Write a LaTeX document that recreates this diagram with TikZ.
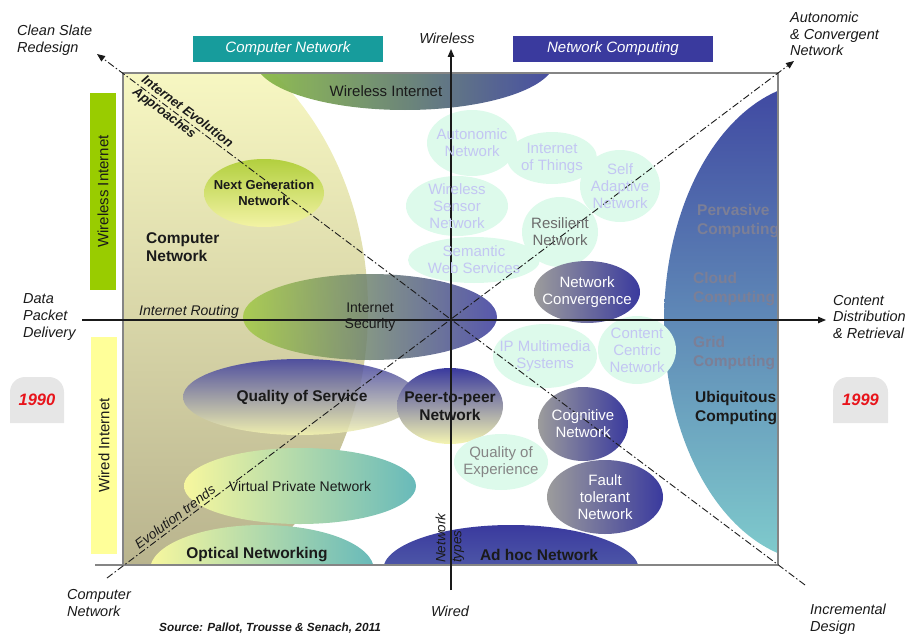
\documentclass[tikz,border=0pt]{standalone}
\usepackage{fontspec}
\setmainfont{Liberation Sans}
\usetikzlibrary{shapes.geometric,arrows.meta}
\definecolor{tealc}{HTML}{179C9C}
\definecolor{navyc}{HTML}{3A3A9E}
\definecolor{greenbar}{HTML}{99CC00}
\definecolor{yellowbar}{HTML}{FFFF99}
\definecolor{tabc}{HTML}{E6E6E6}
\definecolor{yearred}{HTML}{E8141B}
\definecolor{wiL}{HTML}{8CBC46}
\definecolor{wiR}{HTML}{3D449E}
\definecolor{ubT}{HTML}{3F47A1}
\definecolor{ubM}{HTML}{6690C0}
\definecolor{ubB}{HTML}{80CDCD}
\definecolor{paleY}{HTML}{F5F5B2}
\definecolor{yelL}{HTML}{F7F79E}
\definecolor{tealL}{HTML}{68BABA}
\definecolor{adB}{HTML}{6478B2}
\definecolor{isL}{HTML}{A2CA45}
\definecolor{mintc}{HTML}{DDFAEB}
\definecolor{lav}{HTML}{C3C6F3}
\definecolor{greyc}{HTML}{9C9C9C}
\definecolor{rgT}{HTML}{F7F7C2}
\definecolor{rgM}{HTML}{E6E4B4}
\definecolor{rgB}{HTML}{B9B48E}
\definecolor{ngT}{HTML}{B2CF3E}
\definecolor{ngB}{HTML}{F3F3A5}
\definecolor{framec}{HTML}{858585}
\definecolor{compc}{HTML}{7C7F96}
\definecolor{inkc}{HTML}{1A1A1A}
\newcommand{\fsz}[2]{\fontsize{#1}{#2}\selectfont}
\begin{document}
\begin{tikzpicture}[x=1pt,y=-1pt,
 shp/.style={ellipse, inner sep=0pt, outer sep=0pt, draw=none},
 mint/.style={shp, fill=mintc},
 gb/.style={shp, left color=greyc, right color=navyc},
 mtx/.style={align=center, text=lav, font=\fsz{15}{17}, inner sep=0pt},
 wtx/.style={align=center, text=white, font=\fsz{15}{17}, inner sep=0pt},
 btx/.style={align=center, text=inkc, font=\bfseries\fsz{15.5}{18.5}, inner sep=0pt},
 ntx/.style={align=center, text=inkc, font=\fsz{14}{16}, inner sep=0pt},
 ctx/.style={align=left, anchor=west, text=compc, font=\bfseries\fsz{15.5}{19}, inner sep=0pt},
 lab/.style={align=left, text=inkc, font=\itshape\fsz{14.5}{16.8}, inner sep=0pt},
 hdr/.style={minimum height=26pt, inner sep=0pt, text=white, font=\itshape\fsz{15}{17}},
 bar/.style={rotate=90, minimum height=26pt, inner sep=0pt, text=inkc, font=\fsz{15}{17}},
 yr/.style={text=yearred, font=\bfseries\itshape\fsz{16.5}{19}, inner sep=0pt},
 ax/.style={line width=1.2pt, draw=inkc},
 dd/.style={line width=0.9pt, draw=inkc, dash pattern=on 7pt off 2.5pt on 1.5pt off 2.5pt},
 tip/.style={-{Triangle[length=8pt,width=6.5pt]}},
 fr/.style={draw=framec, line width=1.6pt}
]
\useasboundingbox (0,0) rectangle (915,634);

% headers
\node[hdr, fill=tealc, minimum width=190pt] (hcn) at (288,49) {Computer Network};
\node[hdr, fill=navyc, minimum width=200pt] (hnc) at (613,49) {Network Computing};

% side bars
\node[bar, fill=greenbar, minimum width=197pt] (bwi) at (103,191.5) {Wireless Internet};
\node[bar, fill=yellowbar, minimum width=217pt] (bwd) at (104,445.5) {Wired Internet};

% year tabs
\fill[tabc] (10,423) -- (10,392) arc[start angle=180,end angle=270,radius=15] -- (49,377) arc[start angle=270,end angle=360,radius=15] -- (64,423) -- cycle;
\node[yr] (y1990) at (37,400) {1990};
\fill[tabc] (833,423) -- (833,392) arc[start angle=180,end angle=270,radius=15] -- (873,377) arc[start angle=270,end angle=360,radius=15] -- (888,423) -- cycle;
\node[yr] (y1999) at (860.5,400) {1999};

% clipped background shapes
\begin{scope}
\clip (123,73) rectangle (778,565);
\begin{scope}
\clip (123,310) ellipse [x radius=245, y radius=300];
\shade[top color=rgT, middle color=rgM, bottom color=rgB] (123,73) rectangle (370,565);
\end{scope}
\shade[left color=wiL, right color=wiR, opacity=0.95] (405,60) ellipse [x radius=150, y radius=50];
\begin{scope}
\clip (820,322) ellipse [x radius=156, y radius=240];
\shade[top color=ubT, middle color=ubM, bottom color=ubB] (655,80) rectangle (780,565);
\end{scope}
\shade[left color=yelL, right color=tealL] (262,570) ellipse [x radius=112, y radius=45];
\shade[top color=navyc, bottom color=adB] (511,570) ellipse [x radius=128, y radius=45];
\end{scope}

% ellipses
\node[shp, minimum width=254pt, minimum height=86pt, left color=isL, right color=navyc, opacity=0.85] (isec) at (370,317) {};
\node[shp, minimum width=234pt, minimum height=76pt, top color=navyc, bottom color=paleY, opacity=0.85] (qos) at (300,397) {};
\node[shp, minimum width=232pt, minimum height=76pt, left color=yelL, right color=tealL] (vpn) at (300,486) {};
\node[shp, minimum width=106pt, minimum height=76pt, top color=navyc, bottom color=paleY] (p2p) at (450,406) {};
\node[shp, minimum width=120pt, minimum height=68pt, top color=ngT, bottom color=ngB] (ngn) at (264,193) {};

\node[mint, minimum width=90pt, minimum height=66pt] (auto) at (472,143) {};
\node[mint, minimum width=90pt, minimum height=52pt] (iot) at (552,158) {};
\node[mint, minimum width=80pt, minimum height=72pt] (self) at (620,186) {};
\node[mint, minimum width=102pt, minimum height=60pt] (wsn) at (457,206) {};
\node[mint, minimum width=76pt, minimum height=70pt] (res) at (560,232) {};
\node[mint, minimum width=132pt, minimum height=46pt] (sem) at (474,260) {};
\node[mint, minimum width=104pt, minimum height=64pt] (ipm) at (545,356) {};
\node[mint, minimum width=78pt, minimum height=68pt] (ccn) at (637,350) {};
\node[mint, minimum width=94pt, minimum height=56pt] (qoe) at (501,462) {};

\node[gb, minimum width=106pt, minimum height=62pt] (nconv) at (587,292) {};
\node[gb, minimum width=90pt, minimum height=74pt] (cog) at (583,424) {};
\node[gb, minimum width=116pt, minimum height=74pt] (fault) at (605,497) {};

% frame
\draw[fr] (123,565) -- (123,73) -- (778,73) -- (778,565);
\draw[fr] (95,565) -- (778,565);

% axes and diagonals
\coordinate (hL) at (82,320);
\coordinate (hR) at (826,320);
\coordinate (vB) at (451,590);
\coordinate (vT) at (451,49);
\coordinate (d1a) at (97,54);
\coordinate (d1b) at (805,585);
\coordinate (d2a) at (107,578);
\coordinate (d2b) at (794,61);
\draw[ax, tip] (hL) -- (hR);
\draw[ax, tip] (vB) -- (vT);
\draw[dd, tip] (d1b) -- (d1a);
\draw[dd, tip] (d2a) -- (d2b);

% texts in shapes
\node[text=inkc, font=\fsz{15}{17}, inner sep=0pt] (twi) at (386,91) {Wireless Internet};
\node[btx, font=\bfseries\fsz{13}{16}] (tngn) at (ngn) {Next Generation\\Network};
\node[ntx] (tisec) at (isec) {Internet\\Security};
\node[btx] (tqos) at (302,397) {Quality of Service};
\node[btx] (tp2p) at (p2p) {Peer-to-peer\\Network};
\node[ntx] (tvpn) at (vpn) {Virtual Private Network};
\node[btx] (topt) at (257,555) {Optical Networking};
\node[btx] (tadh) at (539,555) {Ad hoc Network};

\node[mtx] (tauto) at (auto) {Autonomic\\Network};
\node[mtx] (tiot) at (iot) {Internet\\of Things};
\node[mtx] (tself) at (self) {Self\\Adaptive\\Network};
\node[mtx] (twsn) at (wsn) {Wireless\\Sensor\\Network};
\node[mtx, text=black!58] (tres) at (res) {Resilient\\Network};
\node[mtx] (tsem) at (sem) {Semantic\\Web Services};
\node[mtx] (tipm) at (ipm) {IP Multimedia\\Systems};
\node[mtx] (tccn) at (ccn) {Content\\Centric\\Network};
\node[mtx, text=black!48] (tqoe) at (qoe) {Quality of\\Experience};

\node[wtx] (tnconv) at (nconv) {Network\\Convergence};
\node[wtx] (tcog) at (cog) {Cognitive\\Network};
\node[wtx] (tfault) at (fault) {Fault\\tolerant\\Network};

\begin{scope}
\clip (123,73) rectangle (778,565);
\node[ctx] (tperv) at (697,221) {Pervasive\\Computing};
\node[ctx] (tcloud) at (693,289) {Cloud\\Computing};
\node[ctx] (tgrid) at (693,353) {Grid\\Computing};
\node[ctx, text=inkc] (tubiq) at (695,408.5) {Ubiquitous\\Computing};
\end{scope}

\node[btx, align=left, anchor=west] (tcnet) at (146,247) {Computer\\Network};
\node[lab, font=\itshape\fsz{14}{16}] (troute) at (189,312) {Internet Routing};

% rotated labels
\node[lab, font=\bfseries\itshape\fsz{13}{15}, rotate=-36.87] (tiea) at (182.5,118) {Internet Evolution\\Approaches};
\node[lab, font=\itshape\fsz{13.5}{16}, rotate=36.87] (tevo) at (175,517) {Evolution trends};
\node[lab, font=\itshape\fsz{13.5}{16}, rotate=90] (tntyp) at (450,538) {Network\\types};

% outer labels
\node[lab, anchor=west] (lcsr) at (17,40) {Clean Slate\\Redesign};
\node[lab, anchor=west] (lacn) at (790,34) {Autonomic\\\& Convergent\\Network};
\node[lab] (lwl) at (447,38) {Wireless};
\node[lab, anchor=west] (ldpd) at (23,317) {Data\\Packet\\Delivery};
\node[lab, anchor=west] (lcdr) at (833,317) {Content\\Distribution\\\& Retrieval};
\node[lab, anchor=west] (lcn) at (67,603) {Computer\\Network};
\node[lab] (lwd) at (450,611) {Wired};
\node[lab, anchor=west] (lid) at (810,619) {Incremental\\Design};
\node[lab, font=\bfseries\itshape\fsz{11.8}{14}] (lsrc) at (270,628) {Source: Pallot, Trousse \& Senach, 2011};
\end{tikzpicture}
\end{document}
